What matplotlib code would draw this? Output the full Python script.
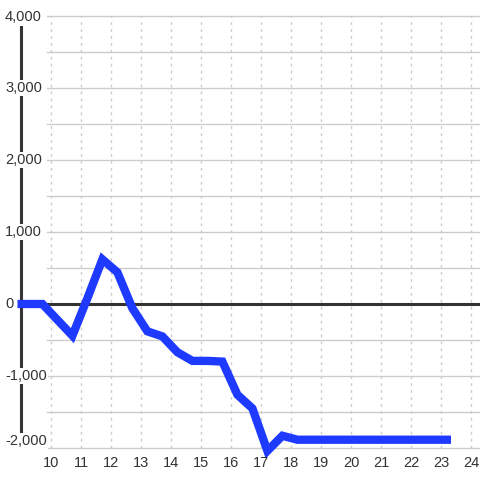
import matplotlib
matplotlib.use("Agg")
import matplotlib.pyplot as plt
import numpy as np

# data
xs = [8.9, 9.73, 10.23, 10.73, 11.23, 11.73, 12.23, 12.73, 13.23, 13.73, 14.23,
      14.73, 15.23, 15.73, 16.23, 16.73, 17.23, 17.73, 18.23, 18.73, 19.23,
      19.73, 20.23, 20.73, 21.23, 21.73, 22.23, 22.73, 23.35]
ys = [0, 0, -220, -440, 80, 620, 440, -60, -380, -450, -670,
      -790, -790, -800, -1260, -1450, -2040, -1830, -1885, -1885, -1885,
      -1885, -1885, -1885, -1885, -1885, -1885, -1885, -1885]
x_ticks = list(range(10, 25))
y_ticks = [-2000, -1000, 0, 1000, 2000, 3000, 4000]
y_grid = np.arange(-2000, 4001, 500)

W = H = 480
fig = plt.figure(figsize=(4.8, 4.8), dpi=100)
ax = fig.add_axes([0, 0, 1, 1])
ax.axis("off")
x0 = 9 - 20.5 / 30
ax.set_xlim(x0, x0 + W / 30)
y_top = 4000 + 16 / 72 * 1000
ax.set_ylim(y_top - H / 72 * 1000, y_top)

grey = "#cccccc"
dark = "#333333"

# horizontal grid
for g in y_grid:
    ax.axhline(g, xmin=47 / W, xmax=1, color=grey, lw=1, zorder=1)
# vertical dotted grid
for t in x_ticks:
    ax.axvline(t, ymin=32 / H, ymax=(H - 16) / H, color=grey, lw=1,
               ls=(0, (2, 3)), zorder=1)

# zero line and left axis
ax.axhline(0, xmin=20 / W, xmax=1, color=dark, lw=2.2, zorder=2)
ax.axvline(9.0, ymin=(H - 437) / H, ymax=(H - 22) / H, color=dark, lw=2.2, zorder=2)

ax.plot(xs, ys, color="#1f3aff", lw=6, solid_joinstyle="miter",
        solid_capstyle="butt", zorder=3)

font = "Liberation Sans"
for v in y_ticks:
    # end labels are nudged to stay inside the plot
    ypos = v + (97 if v == -2000 else 0) - (20 if v == 4000 else 0)
    ax.text(x0 + 5 / 30, ypos, f"{v:,}", ha="left", va="center", fontsize=10.5,
            color=dark, family=font, zorder=4,
            bbox=dict(facecolor="white", edgecolor="none", pad=1))
ylab = y_top - 463 / 72 * 1000
for t in x_ticks:
    ax.text(t + 0.03, ylab, str(t), ha="center", va="center", fontsize=10.5,
            color=dark, family=font, zorder=4)

fig.savefig("out.png", dpi=100)
